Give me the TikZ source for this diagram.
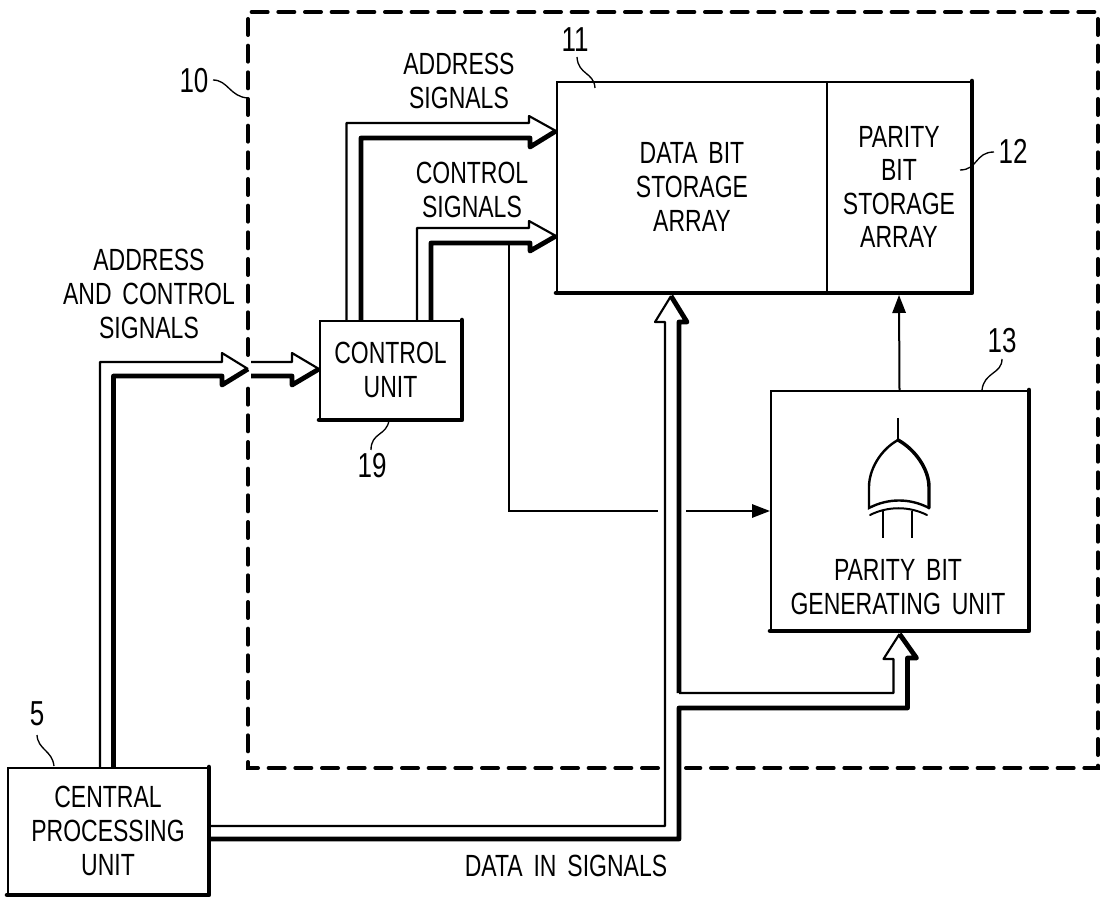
\documentclass[tikz,border=0pt]{standalone}
\usepackage{fontspec}
\usetikzlibrary{arrows.meta,calc}
\newfontfamily\lblfont[FakeStretch=0.75,WordSpace=1.7]{Liberation Sans}

\tikzset{every picture/.style={line width=1.5pt}}
\tikzset{
  lbl/.style={font=\lblfont\fontsize{23}{25.2}\selectfont,align=center,inner sep=0pt},
  refnum/.style={font=\lblfont\fontsize{26}{28}\selectfont,inner sep=0pt},
  boxthin/.style={lbl,draw,line width=1.5pt,anchor=north west},
  thickedge/.style={line width=3.4pt,line cap=round,line join=round},
  thinbus/.style={line width=1.6pt,line join=round},
  thickbus/.style={line width=3.6pt,line join=round},
  sigline/.style={line width=1.5pt},
  sigarrow/.style={sigline,-{Triangle[length=13.5pt,width=10pt]}},
  leader/.style={line width=1pt},
  outline/.style={line width=3pt,line cap=round,dash pattern=on 12pt off 8pt}
}

\begin{document}
\begin{tikzpicture}[x=0.75pt,y=0.75pt,yscale=-1,xscale=1]
\useasboundingbox (0,0) rectangle (1100,898);

%Dashed outline
\draw [outline] (248,355) -- (248,12) -- (1098,12) -- (1098,768) -- (686,768) ;
\draw [outline] (658,768) -- (248,768) -- (248,382) ;

%Boxes
\node (databox) [boxthin,minimum width=202.5pt,minimum height=157.5pt] at (556,81) {DATA BIT\\STORAGE\\ARRAY};
\node (parbox) [boxthin,minimum width=108pt,minimum height=157.5pt] at (826,81) {PARITY\\BIT\\STORAGE\\ARRAY};
\node (ctrl) [boxthin,minimum width=105.75pt,minimum height=73.5pt] at (319,320) {CONTROL\\UNIT};
\node (parunit) [boxthin,minimum width=192.75pt,minimum height=179.25pt] at (770,390) {};
\node (cpu) [boxthin,minimum width=150pt,minimum height=94.5pt] at (7,767) {CENTRAL\\PROCESSING\\UNIT};
\draw [thickedge] (parbox.north east) -- (parbox.south east) -- (databox.south west) ;
\draw [thickedge] (ctrl.north east) -- (ctrl.south east) -- (ctrl.south west) ;
\draw [thickedge] (parunit.north east) -- (parunit.south east) -- (parunit.south west) ;
\draw [thickedge] (cpu.north east) -- (cpu.south east) -- (cpu.south west) ;

%Arrow tips on the boxes
\coordinate (edgetip) at (248,369) ;
\coordinate (ctrltip) at (ctrl.west |- edgetip) ;
\coordinate (addrtip) at ($(databox.north west)+(0,50)$) ;
\coordinate (cmdtip) at ($(databox.north west)+(0,155)$) ;
\coordinate (datatip) at ($(databox.south west)+(115,3)$) ;
\coordinate (unittip) at ($(parunit.south)+(0,3)$) ;
\coordinate (datafork) at ($(datatip)+(8,397)$) ;
\coordinate (cmdtap) at (509,243) ;
\coordinate (gapl) at (658,511) ;
\coordinate (gapr) at (686,511) ;

%Bus from the central processing unit to the outline
\draw [thinbus] ($(cpu.north west)+(93,0)$) |- ($(edgetip)+(-26,-7)$) -- ++(0,-9) -- (edgetip) ;
\draw [thickbus] ($(cpu.north west)+(106.5,0)$) |- ($(edgetip)+(-26,7)$) -- ++(0,9) -- (edgetip) ;
%Bus from the outline to the control unit
\draw [thinbus] ($(edgetip)+(3,-7)$) -- ($(ctrltip)+(-27,-7)$) -- ++(0,-9) -- (ctrltip) ;
\draw [thickbus] ($(edgetip)+(3,7)$) -- ($(ctrltip)+(-27,7)$) -- ++(0,9) -- (ctrltip) ;
%Address bus
\draw [thinbus] ($(ctrl.north west)+(27.5,0)$) |- ($(addrtip)+(-27,-8)$) -- ++(0,-7) -- (addrtip) ;
\draw [thickbus] ($(ctrl.north west)+(42,0)$) |- ($(addrtip)+(-26,7)$) -- ++(0,9) -- (addrtip) ;
%Control bus
\draw [thinbus] ($(ctrl.north west)+(98,0)$) |- ($(cmdtip)+(-27,-8)$) -- ++(0,-7) -- (cmdtip) ;
\draw [thickbus] ($(ctrl.north west)+(112,0)$) |- ($(cmdtip)+(-26,7)$) -- ++(0,8) -- (cmdtip) ;
%Data bus
\draw [thinbus] ($(cpu.east)+(0,-5)$) -| ($(datatip)+(-6,26)$) -- ++(-10,0) -- (datatip) ;
\draw [thickbus] (datafork) -- ($(datatip)+(8,26)$) -- ++(8,0) -- (datatip) ;
\draw [thickbus] ($(cpu.east)+(0,8)$) -| ($(datafork)+(0,15)$) -| ($(unittip)+(8,24)$) -- ++(9,0) -- (unittip) ;
\draw [thinbus] (datafork) -| ($(unittip)+(-6,25)$) -- ++(-10,0) -- (unittip) ;

%Signal lines
\draw [sigline] (cmdtap) |- (gapl) ;
\draw [sigarrow] (gapr) -- (parunit.west |- gapr) ;
\draw [sigarrow] (parunit.north) -- ($(parbox.south)+(0,2)$) ;

%Parity gate
\draw [sigline] (898,418) -- (898,440) ;
\draw [sigline,line width=1.8pt] (898,440) .. controls (880,450) and (869,470) .. (869,487) -- (869,508) .. controls (888,498) and (910,498) .. (929,508) ;
\draw [line width=2.6pt,line cap=round] (898,440) .. controls (916,450) and (929,470) .. (929,487) -- (929,508) ;
\draw [sigline,line cap=round] (870,515) .. controls (888,506) and (909,506) .. (927,515) ;
\draw [sigline] (883,511) -- (883,538) ;
\draw [sigline] (912,511) -- (912,538) ;

%Leader lines
\draw [leader] (213,80) .. controls (228,80) and (230,97) .. (248,98) ;
\draw [leader] (577,57) .. controls (578,75) and (594,72) .. (595,88) ;
\draw [leader] (994,152) .. controls (975,152) and (978,170) .. (960,170) ;
\draw [leader] (1002,359) .. controls (1002,374) and (984,372) .. (982,390) ;
\draw [leader] (389,420) .. controls (387,436) and (371,432) .. (371,450) ;
\draw [leader] (37,735) .. controls (38,750) and (52,750) .. (54,766) ;

% Text Node
\node (addrlbl) [lbl] at (459,81) {ADDRESS\\SIGNALS};
% Text Node
\node (cmdlbl) [lbl] at (472,190) {CONTROL\\SIGNALS};
% Text Node
\node (buslbl) [lbl] at (149,294) {ADDRESS\\AND CONTROL\\SIGNALS};
% Text Node
\node (unitlbl) [lbl] at (898,587) {PARITY BIT\\GENERATING UNIT};
% Text Node
\node (datalbl) [lbl] at (566,866) {DATA IN SIGNALS};
% Text Node
\node (num10) [refnum] at (194,81) {10};
% Text Node
\node (num11) [refnum] at (575,40) {11};
% Text Node
\node (num12) [refnum] at (1013,151) {12};
% Text Node
\node (num13) [refnum] at (1002,341) {13};
% Text Node
\node (num19) [refnum] at (372,466) {19};
% Text Node
\node (num5) [refnum] at (37,714) {5};

\end{tikzpicture}
\end{document}
